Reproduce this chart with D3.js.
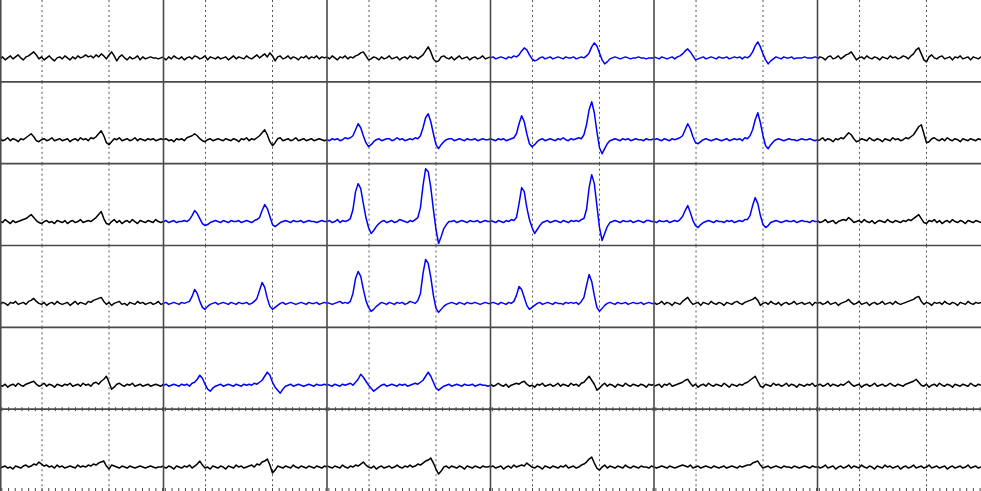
<!DOCTYPE html>
<html><head><meta charset="utf-8">
<script src="https://cdn.jsdelivr.net/npm/d3@7/dist/d3.min.js"></script>
<style>html,body{margin:0;padding:0;background:#fff;overflow:hidden}</style>
</head><body>
<svg id="chart" width="981" height="491"></svg>
<script>
// Waveform samples (64 per electrode), in amplitude units relative to baseline
const row0 = [
 [-1,1,-2,0,2,-1,1,3, 0,-2,1,2,4,6,3,-1, 1,-2,0,2,-1,-3,0,1, -1,2,0,-2,1,-1,2,0, 1,3,1,2,0,3,1,4, 2,-1,3,6,2,-3,1,3, 0,-2,1,-1,0,2,-2,1, -1,0,1,0,0,-1,0,1],
 [0,-2,1,-1,2,0,-1,1, -2,0,1,-1,2,1,-1,0, 2,-2,1,0,-1,1,-1,0, 1,-2,0,2,-1,1,0,-1, 2,0,-1,1,3,0,2,4, 1,5,2,-3,1,2,-1,0, 2,-1,1,0,-2,1,0,2, -1,1,0,2,-1,1,0,1],
 [1,-1,2,0,-2,1,0,2, -1,1,0,2,3,5,6,2, -2,-1,1,0,-2,1,-1,0, 2,-1,0,1,-2,0,1,-1, 2,0,1,-1,1,3,7,11, 6,-1,-4,-3,1,2,0,-1, 1,-2,0,2,-1,0,1,-2, 0,1,-1,0,2,-1,0,1],
 [0,1,-1,0,1,0,-1,1, 0,2,1,3,7,10,8,3, -1,-3,-2,0,1,-1,0,1, -1,0,1,0,-1,1,0,0, 1,-1,0,1,0,2,5,11, 15,12,5,-2,-6,-4,-1,0, 1,0,-1,0,1,0,-1,0, 0,1,0,0,-1,0,0,0],
 [1,0,-1,1,0,-1,0,1, -1,1,2,4,7,9,6,2, -2,-1,0,1,-1,0,1,0, -1,1,0,0,1,-1,0,1, 0,1,-1,1,0,2,6,12, 16,11,4,-2,-6,-3,-1,1, 0,-1,1,0,0,1,-1,0, 0,0,1,0,0,0,1,0],
 [-1,1,0,-2,1,2,-1,0, 2,-1,1,3,4,6,2,-2, 0,1,-1,2,0,-1,1,0, -2,1,0,-1,2,0,1,-1, 0,2,1,-1,2,4,8,10, 4,-2,-4,1,3,0,-1,1, 2,-1,0,1,-2,1,0,2, -1,0,1,-2,1,0,-1,1]
];
const row1 = [
 [1,-1,0,2,-1,1,0,-2, 1,0,2,4,6,3,-1,-2, 0,1,-1,0,2,-1,0,1, -1,0,1,-2,0,1,-1,2, 0,1,-1,2,1,3,6,9, 4,-3,-5,-2,1,0,2,-1, 0,1,-1,0,2,-1,1,0, -1,1,0,1,-1,0,1,0],
 [0,1,-1,0,-2,1,0,1, -1,2,3,4,6,4,1,-1, -2,0,1,-1,0,1,0,-1, 1,0,-1,1,0,-2,1,0, 2,-1,1,0,2,4,7,10, 5,-2,-6,-3,1,2,-1,0, 1,-1,0,2,-1,0,1,-1, 0,1,-1,0,1,0,-1,0],
 [0,-1,1,0,1,-1,0,2, 1,2,4,10,16,12,4,-3, -7,-5,-2,0,1,-1,0,1, 1,-1,0,2,0,1,-1,0, 1,0,2,1,4,12,22,26, 18,6,-5,-9,-5,-2,0,1, 1,-1,0,1,0,-1,1,0, 0,1,-1,0,1,0,0,1],
 [1,0,-1,1,0,1,-1,0, 1,2,6,16,24,18,6,-4, -7,-5,-2,0,1,-1,0,1, 0,-1,1,0,2,0,-1,1, 0,1,2,1,5,15,30,38, 27,8,-8,-14,-9,-4,-1,0, 1,0,-1,1,0,1,-1,0, 1,0,0,-1,1,0,0,1],
 [0,1,0,-1,1,0,-1,1, 0,1,2,4,10,16,11,3, -3,-4,-2,0,1,0,-1,0, 1,0,-1,0,1,-1,0,1, 0,1,-1,2,1,4,10,20, 27,17,4,-6,-9,-5,-2,0, 1,0,-1,0,1,0,0,-1, 0,1,0,0,1,0,-1,0],
 [-1,0,2,-1,1,0,-2,1, 0,2,1,4,7,5,1,-2, -1,1,0,-1,2,0,-1,1, 0,-2,1,0,-1,2,0,1, -1,0,2,1,3,5,9,13, 15,6,-3,-2,1,2,0,-1, 1,-1,2,0,-1,1,0,-2, 1,0,-1,1,0,-1,1,0]
];
const row2 = [
 [0,-1,2,0,-2,1,-1,0, 1,2,3,5,7,4,1,-1, -2,0,1,-1,0,-2,1,0, -1,1,-2,0,1,-1,0,2, -1,0,1,0,2,4,7,10, 3,-2,-3,0,2,-1,1,-2, 0,1,-1,2,0,-2,1,0, -1,1,0,-1,2,0,-1,0],
 [0,1,-1,0,1,-1,0,0, 1,0,2,6,11,8,3,-2, -4,-3,-1,0,1,0,-1,1, 0,-1,1,0,0,1,-1,0, 1,0,-1,1,2,4,11,17, 13,5,-3,-5,-3,-1,0,1, 0,-1,1,0,0,1,-1,0, 1,0,0,-1,0,1,0,0],
 [0,1,-1,0,2,-1,1,0, 1,3,12,30,38,33,18,4, -6,-12,-9,-5,-2,0,1,-1, 0,1,-1,0,2,1,0,-1, 1,0,2,4,14,36,53,50, 34,12,-8,-22,-15,-7,-3,0, 0,1,-1,0,1,0,-1,1, 0,0,1,-1,0,1,0,0],
 [1,0,-1,1,0,-1,1,0, 2,1,4,18,34,30,14,2, -6,-12,-8,-4,-1,0,1,-1, 0,1,0,-1,1,0,-1,1, 0,1,0,2,3,12,34,47, 38,16,-6,-19,-12,-5,-1,0, 1,0,-1,1,0,0,1,-1, 0,1,0,-1,1,1,0,0],
 [0,-1,1,0,0,1,-1,0, 1,0,2,5,11,16,9,1, -4,-6,-3,-1,0,1,0,-1, 1,0,0,-1,1,0,1,-1, 0,1,0,2,2,6,16,24, 18,6,-3,-6,-4,-1,0,1, 0,-1,0,1,0,0,1,-1, 0,1,0,0,-1,1,0,0],
 [1,-1,0,2,-1,0,1,-2, 0,1,2,1,4,2,-1,0, 1,-1,2,0,-1,1,-2,0, 1,0,-1,2,0,-1,1,0, -1,1,0,2,1,3,5,7, 3,-1,-2,1,0,2,-1,1, -2,0,1,-1,2,0,-1,1, 0,-2,1,0,-1,1,0,-1]
];
const row3 = [
 [-1,1,0,-2,1,0,2,-1, 0,1,-1,2,3,5,2,0, -1,1,-2,0,1,-1,2,0, -1,0,1,-2,0,2,-1,1, 0,-1,2,1,3,4,5,6, 2,-1,1,-2,0,1,2,-1, 0,-2,1,0,-1,2,0,1, -1,0,1,-1,0,2,-1,0],
 [0,1,-1,0,1,0,-1,1, 0,1,2,7,14,10,2,-4, -6,-3,-1,0,1,-1,0,1, 0,-1,1,0,-1,1,0,0, 1,-1,0,2,5,13,21,16, 5,-3,-6,-4,-2,0,1,-1, 0,1,0,-1,0,1,0,-1, 1,0,0,1,-1,0,1,0],
 [1,0,-1,0,1,2,0,1, 0,2,10,25,32,27,14,3, -4,-8,-6,-3,-1,1,0,-1, 1,0,-1,1,0,1,-1,0, 2,1,0,3,10,30,44,40, 26,8,-5,-9,-6,-3,-1,0, 1,0,-1,1,0,-1,1,0, 0,1,0,-1,0,1,0,0],
 [0,1,0,-1,1,0,-1,1, 0,2,8,17,14,6,-2,-6, -4,-2,0,1,-1,0,1,0, -1,1,0,0,-1,1,0,1, 0,1,-1,2,6,18,29,22, 8,-4,-8,-5,-2,0,1,0, -1,1,0,0,1,-1,0,1, 0,0,1,-1,0,1,0,0],
 [1,-1,0,2,-1,1,0,-2, 1,0,-1,2,4,6,2,-1, 0,1,-2,1,0,-1,2,0, -1,1,0,-2,1,0,-1,1, 2,0,-1,1,2,3,4,6, 3,-2,0,1,-1,2,0,-1, 1,-2,0,1,-1,0,2,-1, 0,1,-1,0,1,-2,1,0],
 [0,1,-1,0,2,-1,0,1, -2,0,1,2,4,1,-1,0, 2,-1,0,1,-2,0,1,-1, 0,2,-1,0,1,-1,2,0, -1,0,1,2,3,4,6,7, 2,-1,1,0,-2,1,0,1, -1,2,0,-1,1,0,-2,1, 0,-1,2,0,-1,1,0,1]
];
const row4 = [
 [0,-1,1,-2,0,1,-1,2, 0,-1,1,2,3,4,1,-1, 0,2,-1,1,0,-2,1,0, -1,1,0,2,-1,0,1,-1, 2,0,1,-1,2,3,1,4, 6,9,3,-4,-2,1,2,0, -1,1,0,2,-1,0,1,-1, 0,1,-1,0,1,0,-1,1],
 [0,1,-1,0,1,0,-1,1, 0,1,-1,2,3,6,10,7, 1,-4,-6,-3,-1,0,1,-1, 0,1,0,-1,1,0,-1,1, 0,1,0,2,1,3,5,9, 13,10,3,-2,-5,-8,-4,-1, 0,1,-1,0,1,0,-1,0, 1,0,-1,1,0,0,1,0],
 [1,0,-1,1,0,-1,1,0, 1,2,0,3,6,11,8,4, 0,-3,-6,-4,-2,0,1,-1, 0,1,0,-1,1,0,1,-1, 0,1,2,1,3,5,9,13, 9,3,-3,-5,-3,-1,0,1, -1,0,1,0,-1,1,0,0, 1,-1,0,1,0,0,-1,0],
 [1,-1,0,2,0,-1,1,-2, 0,1,2,1,3,4,1,-1, 0,-2,1,0,2,-1,0,1, -1,0,2,-1,1,0,-1,2, 0,1,-1,2,3,6,9,5, 1,-5,-3,0,2,-1,1,0, -2,1,0,-1,2,0,-1,1, 0,-1,1,0,-2,1,0,1],
 [-1,0,1,-2,1,0,2,-1, 0,1,2,3,5,6,2,-1, 1,-2,0,1,-1,2,0,-1, 1,0,-1,2,0,-2,1,0, -1,1,0,2,3,5,7,9, 4,-1,-2,1,0,-1,2,0, 1,-1,0,2,-1,1,0,-2, 1,0,-1,1,0,2,-1,0],
 [0,1,-1,0,2,-1,1,0, -1,1,0,2,4,1,-1,0, 1,-2,0,1,-1,0,2,-1, 0,1,-1,0,2,0,-1,1, 0,-1,1,2,3,4,6,3, 0,-1,1,-2,0,1,-1,2, 0,-1,1,0,-2,1,0,-1, 1,0,-1,2,0,-1,1,0]
];
const row5 = [
 [-1,0,1,-1,0,-2,1,0, -1,1,2,0,1,3,2,5, 3,1,2,0,1,-1,2,0, 1,-1,0,1,0,-1,2,0, 1,0,2,1,3,2,4,5, 6,1,-2,2,1,0,-1,1, 0,-1,1,0,-1,0,1,0, -1,0,1,0,-1,0,0,1],
 [0,-1,1,0,-2,1,0,-1, 1,0,2,-1,1,3,6,2, -1,0,-2,1,0,-1,1,0, -2,1,0,-1,2,0,1,-1, 0,1,2,0,3,2,5,6, 8,2,-6,-3,1,0,-1,1, 0,-1,2,0,-1,1,0,-1, 1,0,-1,1,0,-1,1,0],
 [1,0,-1,1,0,-1,2,0, -1,1,0,2,1,3,5,2, 0,-1,1,-2,0,1,-1,0, 1,-1,0,2,0,-1,1,0, 2,0,1,3,2,4,6,7, 9,4,-2,-7,-4,0,1,-1, 1,0,-1,1,0,-2,1,0, -1,1,0,-1,1,0,0,1],
 [0,1,-1,0,1,-2,0,1, -1,2,0,1,2,1,4,2, 0,-1,1,0,-2,1,0,-1, 1,0,-1,1,0,2,-1,0, 1,-1,0,2,3,5,8,10, 4,-1,-3,0,2,-1,1,0, -1,1,0,-1,2,0,-1,1, 0,-1,1,0,0,-1,1,0],
 [0,-1,0,1,0,-1,1,0, -1,0,1,2,1,0,2,-1, 0,1,-1,0,1,0,-1,1, 0,-1,0,1,-1,0,1,0, -1,1,0,1,2,2,4,5, 6,2,-1,0,1,-1,0,1, 0,-1,1,0,0,-1,1,0, -1,0,1,0,-1,1,0,0],
 [1,-1,0,2,-1,0,1,-2, 0,1,-1,0,2,-1,1,0, -1,2,0,-1,1,0,-2,1, 0,-1,2,0,1,-1,0,1, -2,0,1,-1,0,2,-1,0, 1,-1,0,2,-1,0,1,-1, 0,1,-2,0,1,-1,0,1, -1,0,2,-1,0,1,-1,0]
];
const rows = [row0, row1, row2, row3, row4, row5];
// electrodes drawn in blue: [row, col]
const blueCells = [[0,3],[0,4],[1,2],[1,3],[1,4],[2,1],[2,2],[2,3],[2,4],[3,1],[3,2],[3,3],[4,1],[4,2]];
const dottedIdx = [16.2, 42];
const yDomain = [-24, 58];

const W = 981, H = 491, nR = 6, nC = 6;
const cw = W / nC, ch = H / nR;
const svg = d3.select("#chart");
const defs = svg.append("defs");
const isBlue = (r, c) => blueCells.some(b => b[0] === r && b[1] === c);
const nS = row0[0].length;
const tickStep = (dottedIdx[1] - dottedIdx[0]) / 10;
const tickIdx = d3.range(-6, 19).map(k => dottedIdx[0] + k * tickStep).filter(v => v >= 0 && v <= nS - 1);

const gridCol = "#4a4a4a";

rows.forEach((row, r) => {
  row.forEach((vals, c) => {
    const x0 = c * cw, y0 = r * ch;
    const x = d3.scaleLinear().domain([0, nS - 1]).range([x0, x0 + cw]);
    const y = d3.scaleLinear().domain(yDomain).range([y0 + ch, y0]);
    const id = `clip${r}_${c}`;
    defs.append("clipPath").attr("id", id).append("rect")
      .attr("x", x0).attr("y", y0).attr("width", cw).attr("height", ch);
    const g = svg.append("g");
    g.selectAll("line.dot").data(dottedIdx).join("line")
      .attr("x1", d => x(d)).attr("x2", d => x(d))
      .attr("y1", y0).attr("y2", y0 + ch)
      .attr("stroke", "#555").attr("stroke-width", 1)
      .attr("stroke-dasharray", "2,3");
    const line = d3.line().x((d, i) => x(i)).y(d => y(d));
    g.append("path").datum(vals)
      .attr("clip-path", `url(#${id})`)
      .attr("d", line).attr("fill", "none")
      .attr("stroke", isBlue(r, c) ? "#0000ff" : "#000")
      .attr("stroke-width", 1.5).attr("stroke-linejoin", "round");
    if (r === nR - 1) {
      g.selectAll("line.tk").data(tickIdx).join("line")
        .attr("x1", d => x(d)).attr("x2", d => x(d))
        .attr("y1", y0 - 2).attr("y2", y0 + 2)
        .attr("stroke", gridCol).attr("stroke-width", 1);
      g.selectAll("line.tb").data(tickIdx).join("line")
        .attr("x1", d => x(d)).attr("x2", d => x(d))
        .attr("y1", H - 3).attr("y2", H)
        .attr("stroke", gridCol).attr("stroke-width", 1);
    }
  });
});

const vlines = d3.range(0, nC).map(c => c * cw);
const hlines = d3.range(1, nR).map(r => r * ch);
svg.append("g").selectAll("line").data(vlines).join("line")
  .attr("x1", d => Math.max(d, 0.75)).attr("x2", d => Math.max(d, 0.75))
  .attr("y1", 0).attr("y2", H)
  .attr("stroke", gridCol).attr("stroke-width", 1.6);
svg.append("g").selectAll("line").data(hlines).join("line")
  .attr("x1", 0).attr("x2", W).attr("y1", d => d).attr("y2", d => d)
  .attr("stroke", gridCol).attr("stroke-width", 1.6);
</script>
</body></html>
